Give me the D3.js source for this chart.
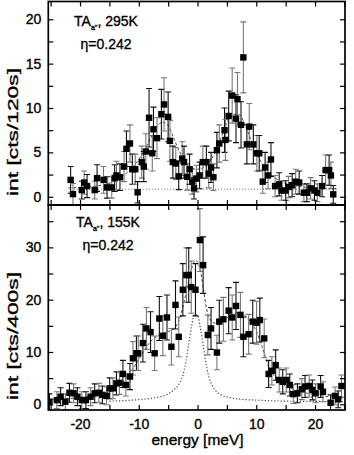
<!DOCTYPE html>
<html><head><meta charset="utf-8">
<script src="https://cdn.jsdelivr.net/npm/d3@7"></script>
<style>
html,body{margin:0;padding:0;background:#fff;}
svg{display:block;font-family:"Liberation Sans",Arial,sans-serif;}
</style></head>
<body><svg id="c" width="354" height="455"></svg>
<script>
// ---------- data ----------
const topE = [-21.6,-21.2,-19.7,-19.3,-18.8,-17.5,-17.1,-16.0,-15.4,-14.6,-14.1,-13.8,-13.2,-12.5,-12.1,-11.5,-11.1,-10.6,-10.2,-9.5,-9.15,-8.8,-8.25,-7.7,-7.5,-6.9,-6.15,-5.7,-5.0,-4.7,-4.2,-3.7,-3.2,-2.6,-2.3,-1.75,-1.35,-0.9,-0.6,-0.2,0.35,0.9,1.5,1.9,2.3,2.7,3.3,3.7,4.6,4.75,5.3,5.9,6.55,6.8,7.4,7.8,8.4,8.8,9.5,10.1,10.5,11.1,11.5,12.0,12.5,13.2,13.9,14.3,15.0,15.5,16.1,16.7,17.3,18.1,18.6,19.25,19.9,20.4,21.2,21.8,22.4,22.7,23.1];
const topV = [1.9,0.3,0.75,1.6,1.2,0.75,2.1,1.9,1.05,1.05,2.1,2.4,2.2,3.4,5.4,6.0,3.1,3.1,0.5,3.9,3.4,5.1,8.9,4.9,7.6,6.6,9.3,10.4,9.0,6.3,3.9,3.75,2.3,4.3,3.9,2.25,3.1,1.7,0.95,2.05,2.4,3.9,3.9,2.6,3.3,2.2,5.25,6.0,7.5,6.4,9.1,11.4,8.8,11.0,8.1,15.7,5.9,7.9,5.9,4.9,4.9,1.7,3.3,2.4,4.2,1.2,1.4,0.7,0.7,1.1,1.3,1.7,1.6,0.45,0.45,0.95,0.7,0.45,1.2,3.0,3.0,2.4,0.27];
const topErr = [1.5,1.2,1.0,1.3,1.3,1.0,1.5,1.5,1.2,1.2,1.5,1.6,1.5,1.7,2.0,2.1,1.7,1.7,1.2,1.8,1.7,2.0,3.3,2.0,2.5,2.3,2.8,3.0,2.8,2.3,1.8,1.8,1.5,1.9,1.8,1.5,1.7,1.4,1.2,1.5,1.5,1.8,1.8,1.6,1.7,1.5,2.0,2.1,2.5,2.3,2.8,3.1,2.7,3.0,2.6,4.0,2.2,2.6,2.2,2.0,2.0,1.3,1.7,1.5,1.9,1.2,1.3,1.1,1.1,1.2,1.3,1.4,1.3,1.0,1.0,1.2,1.1,1.0,1.2,1.7,1.7,1.5,1.0];

const botE = [-25.2,-23.95,-23.3,-22.5,-21.8,-21.1,-20.45,-19.7,-19.0,-18.2,-17.5,-16.8,-16.2,-15.5,-14.95,-14.4,-13.8,-13.3,-12.7,-12.2,-11.5,-11.0,-10.4,-10.1,-9.3,-8.7,-8.0,-7.3,-6.5,-5.9,-5.2,-4.45,-3.75,-3.2,-2.5,-1.9,-1.5,-1.07,-0.35,0.4,0.95,1.75,2.3,3.3,3.7,4.4,5.3,5.9,6.55,7.3,7.8,8.7,9.4,10.05,10.6,11.35,12.1,12.65,13.3,13.9,14.5,15.1,15.7,16.3,17.0,17.75,18.3,19.0,19.55,20.1,20.95,21.35,22.65,23.4,23.95,24.5];
const botV = [0.5,0.8,1.45,0.5,2.2,2.1,1.45,0.8,0.8,1.45,2.1,2.2,1.8,1.6,3.05,3.05,4.0,4.1,5.8,3.7,5.3,8.8,9.75,9.75,11.7,14.5,13.8,9.75,16.4,13.1,16.6,11.0,19.0,12.9,21.9,24.7,24.7,22.4,21.9,31.4,26.6,13.25,14.5,9.9,15.8,16.25,17.9,16.6,18.8,17.1,12.9,13.4,15.8,15.6,16.1,12.6,5.8,6.4,7.5,4.65,4.3,4.65,3.7,1.95,2.1,2.9,3.4,3.5,2.75,2.1,3.4,2.4,0.3,1.6,0.95,3.5];
const botErr = [1.5,1.6,1.7,1.5,1.8,1.8,1.7,1.6,1.6,1.7,1.8,1.8,1.7,1.7,2.0,2.0,2.2,2.2,2.6,2.1,2.5,3.2,3.3,3.3,3.6,4.0,3.9,3.3,4.2,3.8,4.3,3.5,4.6,3.8,5.0,5.2,5.2,5.0,5.0,6.0,5.4,3.8,4.0,3.3,4.1,4.2,4.4,4.3,4.5,4.3,3.8,3.8,4.1,4.1,4.2,3.7,2.6,2.7,2.9,2.3,2.3,2.3,2.1,1.8,1.8,2.0,2.1,2.1,1.9,1.8,2.1,1.9,1.5,1.7,1.6,2.1];

// fit curves
const topFitE = [-22,-20,-18,-16,-14,-12,-10,-9,-8,-7,-6,-5,-4,-3,-2,-1,0,1,2,3,4,5,6,7,8,9,10,11,12,14,16,18,20,22,24];
const topFitV = [1.0,1.05,1.15,1.35,1.8,2.7,4.2,5.3,6.6,7.8,8.4,8.0,6.5,5.0,3.9,3.3,3.1,3.3,3.9,5.0,6.6,8.3,9.3,9.3,8.2,6.6,5.0,3.7,2.8,1.8,1.3,1.1,1.0,0.95,0.9];
const topBgE = [-21,24];
const topBgV = [0.85,0.85];

const botFitE = [-25,-20,-16,-14,-12,-10,-8,-6,-4,-3,-2,-1,-0.3,0.5,1,1.5,2,3,4,5,6,7,8,9,10,11,12,13,14,16,18,20,22,25];
const botFitV = [0.9,1.3,2.0,3.0,5.2,8.6,12.0,13.5,14.5,16.5,21.0,26.0,27.5,25.5,22.0,18.5,16.5,15.5,15.8,16.5,17.2,17.5,17.0,15.8,14.0,11.0,7.5,5.5,4.3,3.0,2.3,1.8,1.5,1.2];
const botCenE = [-15,-10,-7,-5,-4,-3,-2.5,-2,-1.5,-1,-0.5,0,0.5,1,1.5,2,2.5,3,4,5,7,10,15,20,25];
const botCenV = [0.6,0.9,1.3,2.0,2.8,4.2,5.5,8.0,11.5,15.0,17.2,17.0,14.5,11.0,7.5,5.0,3.6,2.7,1.8,1.4,1.0,0.8,0.6,0.55,0.5];

const xTicks = [-25,-20,-15,-10,-5,0,5,10,15,20,25];
const xLabels = [-20,-10,0,10,20];
const topYTicks = [0,2.5,5,7.5,10,12.5,15,17.5,20];
const topYLabels = [0,5,10,15,20];
const botYTicks = [0,5,10,15,20,25,30,35];
const botYLabels = [0,10,20,30];

// ---------- layout ----------
const svg = d3.select("#c");
const L = 48.3, R = 345;
const x = d3.scaleLinear().domain([-25.4, 25.1]).range([L, R]);
const panels = [
  {id:"t", y: d3.scaleLinear().domain([-0.93, 22.0]).range([205, 1.5]), top:1.5, bot:205,
   E:topE, V:topV, Er:topErr, yt:topYTicks, yl:topYLabels,
   ylabel:"int [cts/120s]", ylabY:132, temp:", 295K", labX:106, labY1:26, labY2:48.5},
  {id:"b", y: d3.scaleLinear().domain([-1.09, 38.1]).range([410, 205]), top:205, bot:410,
   E:botE, V:botV, Er:botErr, yt:botYTicks, yl:botYLabels,
   ylabel:"int [cts/400s]", ylabY:336, temp:", 155K", labX:108, labY1:227, labY2:250}
];

const heavy = sel => sel.attr("stroke","#000").attr("stroke-width",0.35);

panels.forEach(p => {
  const y = p.y;
  svg.append("clipPath").attr("id","clip"+p.id).append("rect")
    .attr("x",L).attr("y",p.top).attr("width",R-L).attr("height",p.bot-p.top);
  const g = svg.append("g").attr("clip-path","url(#clip"+p.id+")");

  const line = d3.line().x(d=>x(d[0])).y(d=>y(d[1])).curve(d3.curveMonotoneX);
  if (p.id==="t") {
    g.append("path").datum(d3.zip(topBgE, topBgV)).attr("d", line)
      .attr("fill","none").attr("stroke","#666").attr("stroke-width",1).attr("stroke-dasharray","1,2");
    g.append("path").datum(d3.zip(topFitE, topFitV)).attr("d", line)
      .attr("fill","none").attr("stroke","#333").attr("stroke-width",0.9).attr("stroke-dasharray","3,2");
  } else {
    g.append("path").datum(d3.zip(botCenE, botCenV)).attr("d", line)
      .attr("fill","none").attr("stroke","#444").attr("stroke-width",1.2).attr("stroke-dasharray","1.2,2");
    g.append("path").datum(d3.zip(botFitE, botFitV)).attr("d", line)
      .attr("fill","none").attr("stroke","#333").attr("stroke-width",0.9).attr("stroke-dasharray","3,2");
  }

  const pts = p.E.map((e,i)=>({e, v:p.V[i], er:p.Er[i], i}));
  const eb = g.append("g").selectAll("g").data(pts).join("g")
    .attr("stroke", d => d.i%2 ? "#777" : "#111").attr("stroke-width",1.1);
  eb.append("line").attr("x1",d=>x(d.e)).attr("x2",d=>x(d.e))
    .attr("y1",d=>y(d.v-d.er)).attr("y2",d=>y(d.v+d.er));
  eb.append("line").attr("x1",d=>x(d.e)-3).attr("x2",d=>x(d.e)+3)
    .attr("y1",d=>y(d.v-d.er)).attr("y2",d=>y(d.v-d.er));
  eb.append("line").attr("x1",d=>x(d.e)-3).attr("x2",d=>x(d.e)+3)
    .attr("y1",d=>y(d.v+d.er)).attr("y2",d=>y(d.v+d.er));
  g.append("g").selectAll("rect").data(pts).join("rect")
    .attr("x",d=>x(d.e)-3.2).attr("y",d=>y(d.v)-3.2).attr("width",6.4).attr("height",6.4)
    .attr("fill","#000");

  // axes (inward ticks)
  const fmtY = v => p.yl.includes(v) ? String(v) : "";
  const ax = [
    svg.append("g").attr("transform",`translate(${L},0)`).call(d3.axisLeft(y).tickValues(p.yt).tickSize(-5).tickPadding(7).tickFormat(fmtY)),
    svg.append("g").attr("transform",`translate(${R},0)`).call(d3.axisRight(y).tickValues(p.yt).tickSize(-5).tickFormat("")),
    svg.append("g").attr("transform",`translate(0,${p.top})`).call(d3.axisTop(x).tickValues(xTicks).tickSize(-5).tickFormat("")),
    svg.append("g").attr("transform",`translate(0,${p.bot})`).call(d3.axisBottom(x).tickValues(xTicks).tickSize(-5)
      .tickPadding(9).tickFormat(v => (p.id==="b" && xLabels.includes(v)) ? String(v) : ""))
  ];
  ax.forEach(a => {
    a.select(".domain").remove();
    a.selectAll(".tick line").attr("stroke","#000").attr("stroke-width",1.2);
    a.selectAll("text").attr("font-size",14).attr("fill","#000")
      .attr("font-family","Liberation Sans, Arial, sans-serif").call(heavy);
  });

  svg.append("rect").attr("x",L).attr("y",p.top).attr("width",R-L).attr("height",p.bot-p.top)
    .attr("fill","none").attr("stroke","#000").attr("stroke-width",1.7);

  // y label
  svg.append("text").attr("transform",`translate(18,${p.ylabY}) rotate(-90)`)
    .attr("text-anchor","middle").attr("font-size",15)
    .attr("textLength",128).attr("lengthAdjust","spacingAndGlyphs").call(heavy).text(p.ylabel);

  // in-panel label
  const t = svg.append("text").attr("x",p.labX).attr("y",p.labY1).attr("text-anchor","middle").attr("font-size",14).call(heavy);
  t.append("tspan").text("TA");
  t.append("tspan").attr("font-size",7).attr("dy",4).text("a''");
  t.append("tspan").attr("dy",-4).text(p.temp);
  svg.append("text").attr("x",p.labX).attr("y",p.labY2).attr("text-anchor","middle").attr("font-size",14).call(heavy).text("η=0.242");
});

svg.append("text").attr("x",197.5).attr("y",445).attr("text-anchor","middle").attr("font-size",15.5).call(heavy).text("energy [meV]");
</script></body></html>
